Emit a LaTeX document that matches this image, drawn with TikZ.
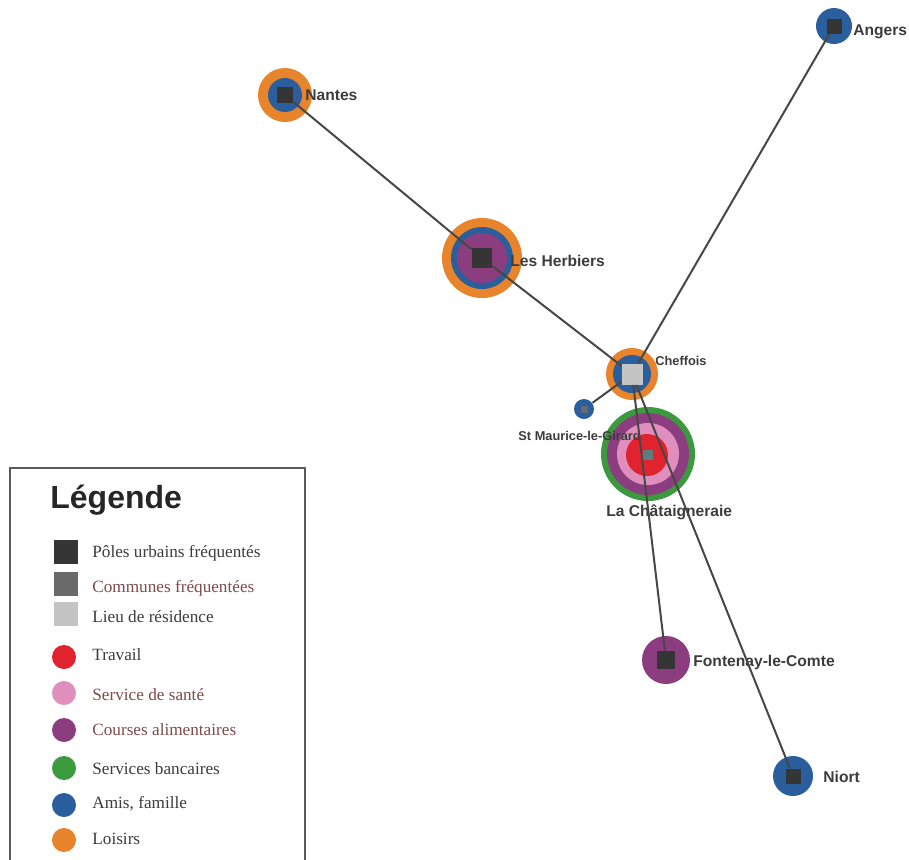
\documentclass[tikz,border=0pt]{standalone}
\usepackage{fontspec}
\setmainfont{Liberation Serif}
\setsansfont{Liberation Sans}

\definecolor{cOrange}{HTML}{E8842C}
\definecolor{cBlue}{HTML}{2B5E9C}
\definecolor{cPurple}{HTML}{8C3D80}
\definecolor{cPink}{HTML}{E08FBD}
\definecolor{cRed}{HTML}{E1222F}
\definecolor{cGreen}{HTML}{3C9A3E}
\definecolor{cDark}{HTML}{353535}
\definecolor{cMid}{HTML}{6A6A6A}
\definecolor{cLight}{HTML}{C4C4C4}
\definecolor{cTeal}{HTML}{5F7D7D}
\definecolor{cLine}{HTML}{474747}
\definecolor{cText}{HTML}{3C3C3C}
\definecolor{cBrown}{HTML}{7E4B4B}
\definecolor{cFrame}{HTML}{5A5A5A}

\pgfdeclarelayer{paper}
\pgfdeclarelayer{rings}
\pgfsetlayers{paper,rings,main}

\tikzset{
  ring/.style={circle, inner sep=0pt, draw=none, minimum size=#1},
  sq/.style={rectangle, inner sep=0pt, draw=none, minimum size=#1},
  link/.style={draw=cLine, line width=1pt},
  city/.style={font=\sffamily\bfseries\fontsize{7.8}{9}\selectfont, text=cText, anchor=base west, inner sep=0pt},
  town/.style={font=\sffamily\bfseries\fontsize{6.4}{8}\selectfont, text=cText, anchor=base west, inner sep=0pt},
  legtext/.style={font=\fontsize{8.6}{10}\selectfont, text=cText, anchor=base west, inner sep=0pt},
}

\begin{document}
\begin{tikzpicture}[x=0.5pt, y=-0.5pt]
\useasboundingbox (0,0) rectangle (909,859);
\begin{pgfonlayer}{paper}
  \fill[white] (0,0) rectangle (909,859);
\end{pgfonlayer}

% concentric activity rings
\begin{pgfonlayer}{rings}
  % Nantes
  \node[ring=27pt, fill=cOrange] (nantesO) at (285,95) {};
  \node[ring=17pt, fill=cBlue] (nantesB) at (285,95) {};
  % Les Herbiers
  \node[ring=40pt, fill=cOrange] (herbO) at (482,258) {};
  \node[ring=31pt, fill=cBlue] (herbB) at (482,258) {};
  \node[ring=25pt, fill=cPurple] (herbP) at (482,258) {};
  % Cheffois
  \node[ring=26pt, fill=cOrange] (chefO) at (632,374) {};
  \node[ring=19pt, fill=cBlue] (chefB) at (632,374) {};
  % St Maurice-le-Girard
  \node[ring=10pt, fill=cBlue] (stmB) at (584,409) {};
  % La Chataigneraie
  \node[ring=47pt, fill=cGreen] (chatG) at (648,454) {};
  \node[ring=41pt, fill=cPurple] (chatP) at (648,454) {};
  \node[ring=31pt, fill=cPink] (chatK) at (648,454) {};
  \node[ring=21pt, fill=cRed] (chatR) at (647,455) {};
  % Angers
  \node[ring=18pt, fill=cBlue] (angersB) at (834,26) {};
  % Fontenay-le-Comte
  \node[ring=24pt, fill=cPurple] (fontP) at (666,660) {};
  % Niort
  \node[ring=20pt, fill=cBlue] (niortB) at (793,776) {};
\end{pgfonlayer}

% place names
\node[city] (lNantes) at (305,100) {Nantes};
\node[city] (lHerbiers) at (510,266) {Les Herbiers};
\node[town] (lCheffois) at (655,365) {Cheffois};
\node[town] (lStMaurice) at (518,440) {St Maurice-le-Girard};
\node[city] (lChat) at (606,516) {La Châtaigneraie};
\node[city] (lAngers) at (853,35) {Angers};
\node[city] (lFontenay) at (693,666) {Fontenay-le-Comte};
\node[city] (lNiort) at (823,782) {Niort};

% place markers
\node[sq=8pt, fill=cDark] (nantes) at (285,95) {};
\node[sq=10pt, fill=cDark] (herbiers) at (482,258) {};
\node[sq=10.5pt, fill=cLight] (cheffois) at (632,374) {};
\node[sq=3.5pt, fill=cMid] (stmaurice) at (584,409) {};
\node[sq=5pt, fill=cTeal] (chataigneraie) at (648,455) {};
\node[sq=7.5pt, fill=cDark] (angers) at (834,26) {};
\node[sq=9pt, fill=cDark] (fontenay) at (666,660) {};
\node[sq=7.5pt, fill=cDark] (niort) at (793,776) {};

% links
\draw[link] (nantes) -- (herbiers);
\draw[link] (herbiers) -- (cheffois);
\draw[link] (angers) -- (cheffois);
\draw[link] (stmB) -- (cheffois);
\draw[link] (cheffois) -- (fontenay);
\draw[link] (cheffois) -- (niort);

% legend
\draw[cFrame, line width=0.8pt] (10,870) -- (10,468) -- (305,468) -- (305,870);
\node[font=\sffamily\bfseries\fontsize{16}{18}\selectfont, text=black!85, anchor=base west, inner sep=0pt] (legTitle) at (50,508) {Légende};

\node[sq=12pt, fill=cDark] (kPoles) at (66,552) {};
\node[sq=12pt, fill=cMid] (kCommunes) at (66,584) {};
\node[sq=12pt, fill=cLight] (kLieu) at (66,614) {};
\node[ring=12pt, fill=cRed] (kTravail) at (64,657) {};
\node[ring=12pt, fill=cPink] (kSante) at (64,693) {};
\node[ring=12pt, fill=cPurple] (kCourses) at (64,730) {};
\node[ring=12pt, fill=cGreen] (kBanque) at (64,768) {};
\node[ring=12pt, fill=cBlue] (kAmis) at (64,805) {};
\node[ring=12pt, fill=cOrange] (kLoisirs) at (64,840) {};

\node[legtext] (tPoles) at (92,557) {Pôles urbains fréquentés};
\node[legtext, text=cBrown] (tCommunes) at (92,592) {Communes fréquentées};
\node[legtext] (tLieu) at (92,622) {Lieu de résidence};
\node[legtext] (tTravail) at (92,660) {Travail};
\node[legtext, text=cBrown] (tSante) at (92,700) {Service de santé};
\node[legtext, text=cBrown] (tCourses) at (92,735) {Courses alimentaires};
\node[legtext] (tBanque) at (92,774) {Services bancaires};
\node[legtext] (tAmis) at (92,808) {Amis, famille};
\node[legtext] (tLoisirs) at (92,844) {Loisirs};
\end{tikzpicture}
\end{document}
